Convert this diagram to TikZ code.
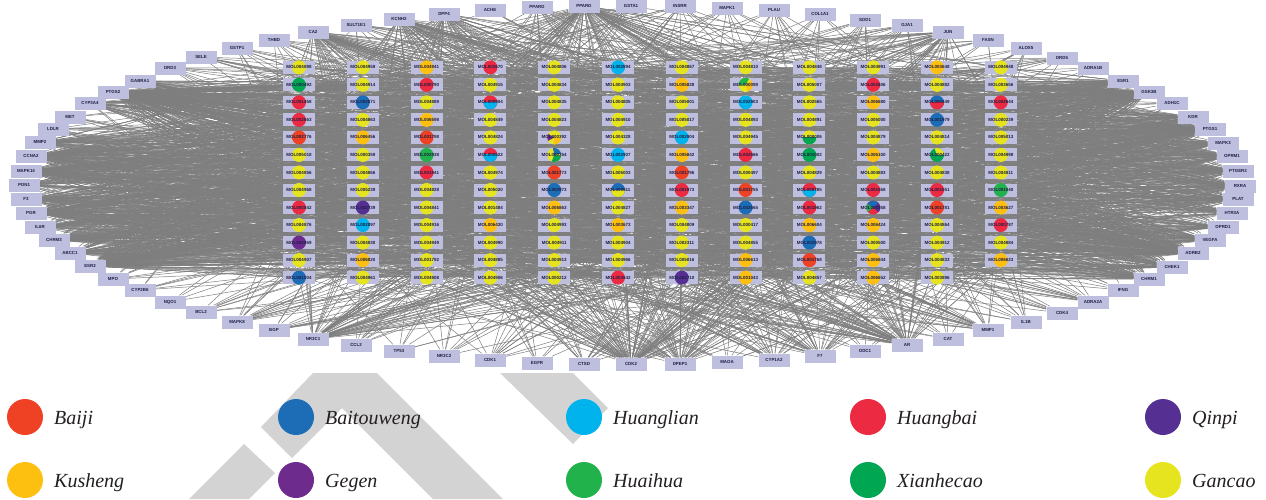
\documentclass[tikz,border=0pt]{standalone}
\usepackage{fontspec}
\setmainfont{Liberation Serif}
\newfontfamily\labfont{Liberation Sans}
\usetikzlibrary{calc}
\definecolor{baiji}{HTML}{EF4123}
\definecolor{bai}{HTML}{1C6DB5}
\definecolor{hlian}{HTML}{00B3EC}
\definecolor{hbai}{HTML}{EC2A42}
\definecolor{qin}{HTML}{553092}
\definecolor{kus}{HTML}{FDC010}
\definecolor{gegen}{HTML}{6D2B8E}
\definecolor{hhua}{HTML}{22B24C}
\definecolor{xhc}{HTML}{00A651}
\definecolor{gan}{HTML}{E6E41F}
\definecolor{boxbg}{HTML}{BEBEDF}
\definecolor{labtxt}{HTML}{1E1E46}
\definecolor{edgec}{HTML}{7E7E7E}
\definecolor{wm}{HTML}{D3D3D3}
\definecolor{legtxt}{HTML}{231F20}
\pgfdeclarelayer{background}
\pgfdeclarelayer{front}
\pgfsetlayers{background,main,front}
\tikzset{
  tgt/.style={fill=boxbg, minimum width=31pt, minimum height=13pt, inner sep=0pt,
    font=\labfont\bfseries\fontsize{4.4}{5}\selectfont, text=labtxt},
  molbox/.style={fill=boxbg, minimum width=32pt, minimum height=13pt, inner sep=0pt},
  moltext/.style={inner sep=0pt, font=\labfont\bfseries\fontsize{4.5}{5}\selectfont, text=labtxt},
  edge/.style={draw=edgec, line width=0.5pt},
  legdot/.style={circle, minimum size=36pt, inner sep=0pt},
  leg/.style={anchor=base west, inner sep=0pt, font=\fontsize{20}{24}\selectfont\itshape, text=legtxt}
}
\newcommand\molnode[4]{%
  \node[molbox] (m-#1-#2) at ({299+(#1-1)*63.8},{67.3+(#2-1)*17.53}) {};
  \fill[#4] (m-#1-#2.center) circle (7pt);
  \begin{pgfonlayer}{front}\node[moltext] (l-#1-#2) at (m-#1-#2.center) {#3};\end{pgfonlayer}}
\newcommand\halfbot[2]{\begin{scope}\clip ($(#1.center)+(-9,0)$) rectangle ($(#1.center)+(9,9)$); \fill[#2] (#1.center) circle (7pt);\end{scope}}
\newcommand\sector[4]{\begin{scope}\clip (#1.center) -- ($(#1.center)+({12*cos(#3)},{-12*sin(#3)})$) -- ($(#1.center)+({12*cos((#3+#4)/2)},{-12*sin((#3+#4)/2)})$) -- ($(#1.center)+({12*cos(#4)},{-12*sin(#4)})$) -- cycle; \fill[#2] (#1.center) circle (7pt);\end{scope}}
\def\hubs{{75,75,75,75,75,75,75,75,75,75,75,75,62,62,62,62,62,62,62,62,62,69,69,69,69,69,69,70,70,70,70,70,70,66,66,66,66,66,64,64,64,64,67,67,67,68,68,71,71,65,65,74,74,76,76,63,63,21,21,21,21,21,21,21,21,24,24,24,24,24,24,24,24,33,33,33,33,33,33,33,28,28,28,28,29,29,29,34,34,34,20,20,20,20,26,26,26,27,27,27,23,23,23,32,32,30,30,31,31,35,35,35,25,25,7,7,7,7,7,1,1,1,3,3,3,4,4,15,15,48,48,48,48,48,42,42,42,42,42,55,55,55,47,47,44,44,45,40,57,58,58}}
\begin{document}
\begin{tikzpicture}[x=1pt,y=-1pt]
\useasboundingbox (0,0) rectangle (1266,499);
% targets
\foreach \nm/\x/\y [count=\i] in {CA2/313/32, SULT1E1/356/25, KCNH2/399/19, DPP4/444/14, ACHE/490/10, PPARD/537/7, PPARG/584/6, GSTA1/631/6, INSRR/680/6, MAPK1/727/8, PLAU/774/10, COL1A1/820/14, SOD1/865/20, GJA1/907/25, JUN/948/32, FASN/988/40, ALOX5/1026/48, DRD5/1062/58, ADRA1B/1093/68, ESR1/1123/81, GSK3B/1149/92, ADH1C/1172/103, KDR/1193/117, PTGS1/1210/129, MAPK3/1223/143, OPRM1/1232/156, PTGER3/1238/171, RXRA/1240/186, PLAT/1238/199, HTR3A/1232/213, OPRD1/1223/227, VEGFA/1210/240, ADRB2/1193/253, CHEK1/1172/267, CHRM1/1149/279, IFNG/1123/290, ADRA2A/1093/302, CDK4/1062/313, IL1B/1026/322, MMP1/988/330, CAT/948/339, AR/907/345, ODC1/865/351, F7/820/356, CYP1A2/774/360, MAOA/727/362, DPEP1/680/364, CDK2/631/364, CTSD/584/364, EGFR/537/363, CDK1/490/360, NR3C2/444/356, TP53/399/351, CCL2/356/345, NR3C1/313/339, BGP/274/330, MAPK8/237/322, BCL2/201/312, NQO1/170/302, CYP2B6/140/290, MPO/113/279, ESR2/90/266, ABCC1/70/253, CHRM3/54/240, IL6R/40/227, PGR/31/213, F3/26/199, PON1/24/185, MAPK14/26/171, CCNA2/31/156, MMP2/40/142, LDLR/53/129, MET/70/117, CYP3A4/90/103, PTGS2/113/92, GABRA1/140/81, DRD3/170/68, SELE/201/57, GSTP1/237/48, THBD/274/40}
  {\node[tgt] (t\i) at (\x,\y) {\nm};}
% compounds
\foreach \lab/\col [count=\r] in {MOL004898/gan, MOL000492/xhc, MOL001458/hbai, MOL002663/hbai, MOL002776/baiji, MOL005018/gan, MOL004856/gan, MOL004968/gan, MOL000842/hbai, MOL004876/gan, MOL002959/gegen, MOL004907/gan, MOL001004/bai} {\molnode{1}{\r}{\lab}{\col}}
\foreach \lab/\col [count=\r] in {MOL004959/gan, MOL004914/gan, MOL002871/bai, MOL004863/gan, MOL006456/kus, MOL000359/gan, MOL004866/gan, MOL005239/gan, MOL002739/qin, MOL002897/hlian, MOL004830/gan, MOL006820/kus, MOL004961/gan} {\molnode{2}{\r}{\lab}{\col}}
\foreach \lab/\col [count=\r] in {MOL004941/kus, MOL000790/hbai, MOL004889/gan, MOL006598/kus, MOL001798/baiji, MOL002938/hhua, MOL001941/hbai, MOL004828/gan, MOL004841/gan, MOL004916/gan, MOL004949/gan, MOL001792/gan, MOL004908/gan} {\molnode{3}{\r}{\lab}{\col}}
\foreach \lab/\col [count=\r] in {MOL002670/hbai, MOL004915/gan, MOL000904/hbai, MOL004849/gan, MOL004824/gan, MOL000622/hbai, MOL004974/gan, MOL005020/gan, MOL001484/gan, MOL006430/kus, MOL004990/gan, MOL004885/gan, MOL004906/gan} {\molnode{4}{\r}{\lab}{\col}}
\foreach \lab/\col [count=\r] in {MOL004806/gan, MOL004834/gan, MOL004835/gan, MOL004823/gan, MOL000392/gan, MOL000354/gan, MOL001773/baiji, MOL002973/bai, MOL006863/kus, MOL004993/gan, MOL004911/gan, MOL004913/gan, MOL000212/gan} {\molnode{5}{\r}{\lab}{\col}}
\foreach \lab/\col [count=\r] in {MOL002894/hlian, MOL004903/gan, MOL004805/gan, MOL004910/gan, MOL004328/gan, MOL002907/hlian, MOL005003/gan, MOL000511/bai, MOL004827/gan, MOL003673/kus, MOL004904/gan, MOL004966/gan, MOL002642/hbai} {\molnode{6}{\r}{\lab}{\col}}
\foreach \lab/\col [count=\r] in {MOL004867/gan, MOL005828/kus, MOL005001/gan, MOL005017/gan, MOL002904/hlian, MOL005842/kus, MOL001796/baiji, MOL001973/hbai, MOL003347/kus, MOL004809/gan, MOL002311/gan, MOL005016/gan, MOL001710/qin} {\molnode{7}{\r}{\lab}{\col}}
\foreach \lab/\col [count=\r] in {MOL004810/gan, MOL000098/gan, MOL002903/hlian, MOL004893/gan, MOL004945/gan, MOL002666/hbai, MOL000497/gan, MOL001755/baiji, MOL002665/bai, MOL000417/gan, MOL004855/gan, MOL006613/kus, MOL001043/kus} {\molnode{8}{\r}{\lab}{\col}}
\foreach \lab/\col [count=\r] in {MOL004848/gan, MOL005007/gan, MOL002565/gan, MOL004891/gan, MOL000006/gan, MOL001002/xhc, MOL004829/gan, MOL000785/hbai, MOL001962/hbai, MOL006604/kus, MOL002978/bai, MOL001768/baiji, MOL004857/gan} {\molnode{9}{\r}{\lab}{\col}}
\foreach \lab/\col [count=\r] in {MOL004991/gan, MOL002606/hbai, MOL006680/kus, MOL005000/gan, MOL004879/gan, MOL006100/kus, MOL004883/gan, MOL001558/hbai, MOL000358/hbai, MOL006424/kus, MOL000500/gan, MOL005844/kus, MOL006652/kus} {\molnode{10}{\r}{\lab}{\col}}
\foreach \lab/\col [count=\r] in {MOL003648/kus, MOL004882/gan, MOL000449/bai, MOL001979/bai, MOL004814/gan, MOL000422/xhc, MOL004838/gan, MOL001551/hbai, MOL001781/baiji, MOL004864/gan, MOL004912/gan, MOL004833/gan, MOL003896/gan} {\molnode{11}{\r}{\lab}{\col}}
\foreach \lab/\col [count=\r] in {MOL004948/gan, MOL003656/gan, MOL002644/hbai, MOL000239/gan, MOL005013/gan, MOL004998/gan, MOL004811/gan, MOL001040/hhua, MOL003627/kus, MOL000787/hbai, MOL004884/gan, MOL006623/kus} {\molnode{12}{\r}{\lab}{\col}}
% multi-herb compounds
\halfbot{m-4-3}{hlian}
\halfbot{m-4-6}{hlian}
\sector{m-5-5}{kus}{-90}{0}
\sector{m-5-5}{gegen}{150}{210}
\sector{m-5-6}{bai}{10}{100}
\sector{m-5-6}{xhc}{250}{350}
\halfbot{m-6-8}{gan}
\sector{m-8-2}{hhua}{60}{180}
\sector{m-8-2}{kus}{-70}{40}
\halfbot{m-9-5}{xhc}
\halfbot{m-9-8}{hlian}
\sector{m-10-9}{bai}{40}{150}
\sector{m-10-9}{hhua}{150}{220}
\sector{m-10-9}{qin}{-40}{40}
\halfbot{m-11-3}{hbai}
\sector{m-11-6}{gan}{0}{110}
% edges and watermark
\begin{pgfonlayer}{background}
\fill[wm] (313,373) -- (377,373) -- (503,499) -- (433,499) -- (342,408) -- (292,458) -- (261,427) -- cycle;
\fill[wm] (244,444) -- (275,473) -- (249,499) -- (189,499) -- cycle;
\fill[wm] (500,373) -- (573,373) -- (608,408) -- (573,444) -- cycle;
\pgfmathsetseed{7}
\foreach \c/\nr in {1/13,2/13,3/13,4/13,5/13,6/13,7/13,8/13,9/13,10/13,11/13,12/12} {
  \foreach \r in {1,...,\nr} {
    \foreach \k in {1,...,18} {
      \pgfmathrandominteger{\q}{0}{148}
      \pgfmathtruncatemacro{\tt}{\hubs[\q]}
      \draw[edge] (m-\c-\r) -- (t\tt);
    }
    \foreach \k in {1,...,5} {
      \pgfmathrandominteger{\tt}{1}{80}
      \draw[edge] (m-\c-\r) -- (t\tt);
    }
  }
}
\end{pgfonlayer}
% legend
\foreach \nm/\cl/\x/\y [count=\i] in {Baiji/baiji/25/417, Baitouweng/bai/296/417, Huanglian/hlian/584/417, Huangbai/hbai/868/417, Qinpi/qin/1163/417, Kusheng/kus/25/480, Gegen/gegen/296/480, Huaihua/hhua/584/480, Xianhecao/xhc/868/480, Gancao/gan/1163/480}
  {\node[legdot, fill=\cl] (lg\i) at (\x,\y) {};
   \node[leg] (lt\i) at (\x+29,\y+7) {\nm};}
\end{tikzpicture}
\end{document}
